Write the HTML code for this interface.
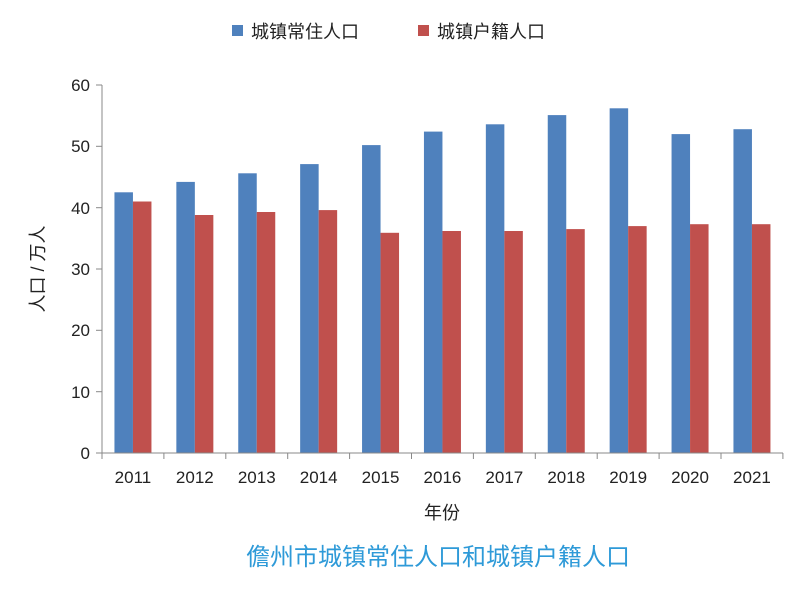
<!DOCTYPE html>
<html><head><meta charset="utf-8"><style>
html,body{margin:0;padding:0;background:#fff;}
svg text{font-family:"Liberation Sans","Noto Sans CJK SC",sans-serif;}
</style></head><body>
<svg width="803" height="585" xmlns="http://www.w3.org/2000/svg">
<rect width="803" height="585" fill="#fff"/>
<rect x="232" y="25" width="11" height="11" fill="#4F81BD"/>
<text x="251" y="38" font-size="18" fill="#222">城镇常住人口</text>
<rect x="418" y="25" width="11" height="11" fill="#C0504D"/>
<text x="437" y="38" font-size="18" fill="#222">城镇户籍人口</text>
<g fill="#4F81BD">
<rect x="114.45" y="192.3" width="18.5" height="260.7"/>
<rect x="176.35" y="181.9" width="18.5" height="271.1"/>
<rect x="238.25" y="173.3" width="18.5" height="279.7"/>
<rect x="300.15" y="164.1" width="18.5" height="288.9"/>
<rect x="362.05" y="145.1" width="18.5" height="307.9"/>
<rect x="423.95" y="131.6" width="18.5" height="321.4"/>
<rect x="485.85" y="124.3" width="18.5" height="328.7"/>
<rect x="547.75" y="115.1" width="18.5" height="337.9"/>
<rect x="609.65" y="108.3" width="18.5" height="344.7"/>
<rect x="671.55" y="134.1" width="18.5" height="318.9"/>
<rect x="733.45" y="129.2" width="18.5" height="323.8"/>
</g>
<g fill="#C0504D">
<rect x="132.95" y="201.5" width="18.5" height="251.5"/>
<rect x="194.85" y="215.0" width="18.5" height="238.0"/>
<rect x="256.75" y="212.0" width="18.5" height="241.0"/>
<rect x="318.65" y="210.1" width="18.5" height="242.9"/>
<rect x="380.55" y="232.8" width="18.5" height="220.2"/>
<rect x="442.45" y="231.0" width="18.5" height="222.0"/>
<rect x="504.35" y="231.0" width="18.5" height="222.0"/>
<rect x="566.25" y="229.1" width="18.5" height="223.9"/>
<rect x="628.15" y="226.1" width="18.5" height="226.9"/>
<rect x="690.05" y="224.2" width="18.5" height="228.8"/>
<rect x="751.95" y="224.2" width="18.5" height="228.8"/>
</g>
<g stroke="#888" stroke-width="1">
<line x1="102" y1="85" x2="102" y2="453"/>
<line x1="102" y1="453" x2="783" y2="453"/>
<line x1="96" y1="85" x2="102" y2="85"/>
<line x1="96" y1="146.3" x2="102" y2="146.3"/>
<line x1="96" y1="207.7" x2="102" y2="207.7"/>
<line x1="96" y1="269" x2="102" y2="269"/>
<line x1="96" y1="330.3" x2="102" y2="330.3"/>
<line x1="96" y1="391.7" x2="102" y2="391.7"/>
<line x1="96" y1="453" x2="102" y2="453"/>
<line x1="102" y1="453" x2="102" y2="459"/>
<line x1="163.9" y1="453" x2="163.9" y2="459"/>
<line x1="225.8" y1="453" x2="225.8" y2="459"/>
<line x1="287.7" y1="453" x2="287.7" y2="459"/>
<line x1="349.6" y1="453" x2="349.6" y2="459"/>
<line x1="411.5" y1="453" x2="411.5" y2="459"/>
<line x1="473.4" y1="453" x2="473.4" y2="459"/>
<line x1="535.3" y1="453" x2="535.3" y2="459"/>
<line x1="597.2" y1="453" x2="597.2" y2="459"/>
<line x1="659.1" y1="453" x2="659.1" y2="459"/>
<line x1="721" y1="453" x2="721" y2="459"/>
<line x1="782.9" y1="453" x2="782.9" y2="459"/>
</g>
<g font-size="17" fill="#222" text-anchor="end">
<text x="90" y="91">60</text><text x="90" y="152">50</text><text x="90" y="214">40</text>
<text x="90" y="275">30</text><text x="90" y="336">20</text><text x="90" y="398">10</text><text x="90" y="459">0</text>
</g>
<g font-size="17" fill="#222" text-anchor="middle">
<text x="132.95" y="483">2011</text><text x="194.85" y="483">2012</text><text x="256.75" y="483">2013</text>
<text x="318.65" y="483">2014</text><text x="380.55" y="483">2015</text><text x="442.45" y="483">2016</text>
<text x="504.35" y="483">2017</text><text x="566.25" y="483">2018</text><text x="628.15" y="483">2019</text>
<text x="690.05" y="483">2020</text><text x="751.95" y="483">2021</text>
</g>
<text transform="translate(44,269) rotate(-90)" font-size="18" fill="#222" text-anchor="middle">人口 / 万人</text>
<text x="442" y="519" font-size="18" fill="#222" text-anchor="middle">年份</text>
<text x="438" y="565" font-size="24" fill="#2E9AD8" text-anchor="middle">儋州市城镇常住人口和城镇户籍人口</text>
</svg>
</body></html>
